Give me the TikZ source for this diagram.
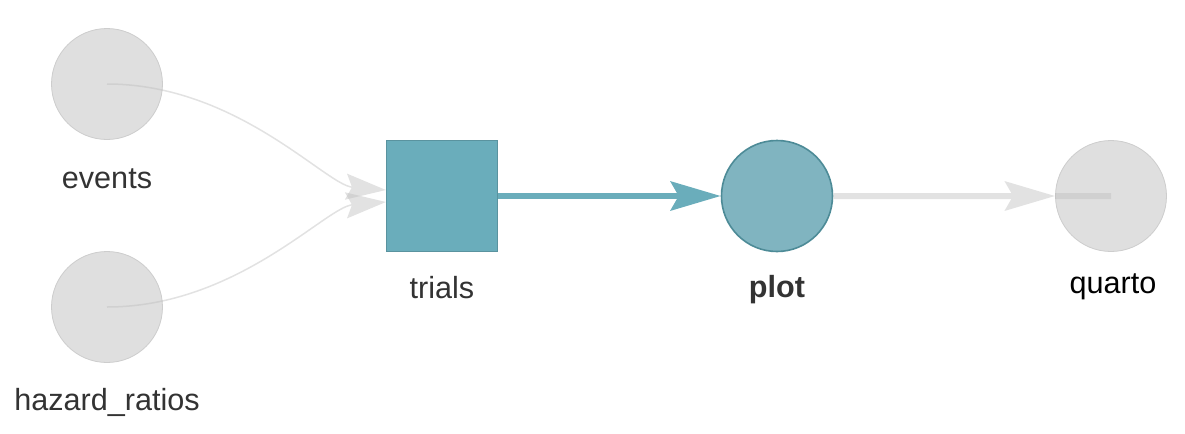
\documentclass[tikz,border=0pt]{standalone}
\usepackage{fontspec}
\setmainfont{Liberation Sans}
\usetikzlibrary{arrows.meta}

\definecolor{nodegrey}{HTML}{DFDFDF}
\definecolor{edgegrey}{HTML}{BDBDBD}
\definecolor{teal1}{HTML}{6AADBB}
\definecolor{teal2}{HTML}{80B4C0}
\definecolor{tealdark}{HTML}{4D8B97}
\definecolor{labelgrey}{HTML}{333333}

\begin{document}
\begin{tikzpicture}[
        x=0.5pt, y=-0.5pt,
        lbl/.style={anchor=base, inner sep=0pt, text=labelgrey, font=\fontsize{15.3}{18}\selectfont},
        done/.style={circle, inner sep=0pt, minimum size=55.5pt, fill=nodegrey, draw=nodegrey!92!black, line width=0.4pt},
        target/.style={rectangle, inner sep=0pt, minimum size=55.5pt, fill=teal1, draw=teal1!85!black, line width=0.6pt},
        outdated/.style={circle, inner sep=0pt, minimum size=55.5pt, fill=teal2, draw=tealdark, line width=0.8pt},
        faded/.style={transparency group, opacity=0.44},
        thin edge/.style={edgegrey, line width=0.75pt, -{Stealth[length=20pt, width=13pt, inset=3pt]}},
        thick edge/.style={line width=3pt, -{Stealth[length=25pt, width=14.5pt, inset=4pt]}},
    ]
        \useasboundingbox (0,0) rectangle (1185,434);

        % nodes
        \node[done] (events) at (107,84) {};
        \node[done] (hazard) at (107,307) {};
        \node[target] (trials) at (442,196) {};
        \node[outdated] (plot) at (777,196) {};
        \node[done] (quarto) at (1111,196) {};

        % labels
        \node[lbl] (eventslbl) at (107,188) {events};
        \node[lbl] (hazardlbl) at (107,410) {hazard\_ratios};
        \node[lbl] (trialslbl) at (442,298) {trials};
        \node[lbl, font=\fontsize{15.3}{18}\selectfont\bfseries] (plotlbl) at (777,297) {plot};
        \node[lbl, text=black] (quartolbl) at (1113,293) {quarto};

        % edges
        \begin{scope}[faded]
            \draw[thin edge] (events.center) .. controls +(130,0) and +(-60,-5) .. ([yshift=3pt]trials.west);
        \end{scope}
        \begin{scope}[faded]
            \draw[thin edge] (hazard.center) .. controls +(130,0) and +(-60,5) .. ([yshift=-3pt]trials.west);
        \end{scope}
        \draw[thick edge, teal1] (trials.east) -- (plot.west);
        \begin{scope}[faded]
            \draw[thick edge, edgegrey] (plot.east) -- (quarto.west);
            \draw[line width=3pt, edgegrey] (quarto.west) -- (quarto.center);
        \end{scope}
    \end{tikzpicture}
\end{document}
